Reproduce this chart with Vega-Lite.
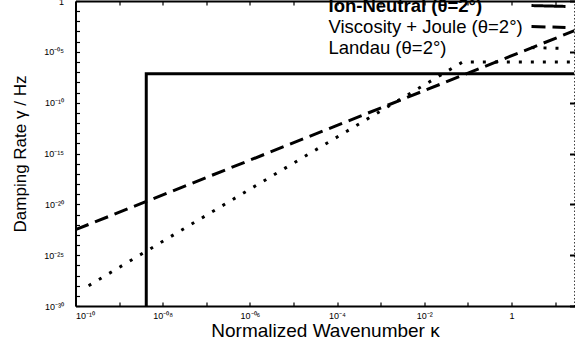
{
  "$schema": "https://vega.github.io/schema/vega-lite/v6.json",
  "autosize": {"type": "none"},
  "width": 499,
  "height": 305,
  "padding": {"left": 75.5, "top": 1, "right": 0, "bottom": 38},
  "background": "white",
  "config": {
    "font": "Liberation Sans",
    "view": {"stroke": null},
    "axis": {"grid": false, "domainColor": "black", "domainWidth": 2, "tickColor": "black", "tickWidth": 1.2, "labelColor": "black", "titleColor": "black", "labelFont": "Liberation Sans", "titleFont": "Liberation Sans", "titleFontWeight": "normal"}
  },
  "data": {
    "values": [
      {"series": "Ion-Neutral (θ=2°)", "k": 4.2e-9, "gamma": 1e-30, "i": 0},
      {"series": "Ion-Neutral (θ=2°)", "k": 4.2e-9, "gamma": 7e-8, "i": 1},
      {"series": "Ion-Neutral (θ=2°)", "k": 28, "gamma": 7e-8, "i": 2},
      {"series": "Viscosity + Joule (θ=2°)", "k": 1e-10, "gamma": 3.2e-23, "i": 0},
      {"series": "Viscosity + Joule (θ=2°)", "k": 28, "gamma": 1.2e-3, "i": 1},
      {"series": "Landau (θ=2°)", "k": 2e-10, "gamma": 1e-28, "i": 0},
      {"series": "Landau (θ=2°)", "k": 0.076, "gamma": 1e-6, "i": 1},
      {"series": "Landau (θ=2°)", "k": 28, "gamma": 1e-6, "i": 2}
    ]
  },
  "layer": [
    {
      "mark": {"type": "line", "color": "black", "strokeWidth": 3, "strokeCap": "butt", "clip": true},
      "encoding": {
        "x": {"field": "k", "type": "quantitative",
          "scale": {"type": "log", "domain": [1e-10, 28], "nice": false},
          "axis": {
            "title": "Normalized Wavenumber κ", "titleFontSize": 19, "titlePadding": 1,
            "values": [1e-10, 1e-9, 1e-8, 1e-7, 1e-6, 1e-5, 1e-4, 1e-3, 1e-2, 1e-1, 1, 10],
            "tickSize": -4, "labelPadding": 9, "labelFontSize": 9,
            "labelExpr": "round(log(datum.value)/LN10) == -10 ? '10⁻¹⁰' : round(log(datum.value)/LN10) == -8 ? '10⁻⁰⁸' : round(log(datum.value)/LN10) == -6 ? '10⁻⁰⁶' : round(log(datum.value)/LN10) == -4 ? '10⁻⁴' : round(log(datum.value)/LN10) == -2 ? '10⁻²' : round(log(datum.value)/LN10) == 0 ? '1' : ''"
          }
        },
        "y": {"field": "gamma", "type": "quantitative",
          "scale": {"type": "log", "domain": [1e-30, 1], "nice": false},
          "axis": {
            "title": "Damping Rate γ / Hz", "titleFontSize": 17, "titlePadding": 14,
            "values": [1e-30,1e-29,1e-28,1e-27,1e-26,1e-25,1e-24,1e-23,1e-22,1e-21,1e-20,1e-19,1e-18,1e-17,1e-16,1e-15,1e-14,1e-13,1e-12,1e-11,1e-10,1e-9,1e-8,1e-7,1e-6,1e-5,1e-4,1e-3,1e-2,1e-1,1],
            "tickSize": -4, "labelPadding": 16, "labelFontSize": 9,
            "labelExpr": "round(log(datum.value)/LN10) == -30 ? '10⁻³⁰' : round(log(datum.value)/LN10) == -25 ? '10⁻²⁵' : round(log(datum.value)/LN10) == -20 ? '10⁻²⁰' : round(log(datum.value)/LN10) == -15 ? '10⁻¹⁵' : round(log(datum.value)/LN10) == -10 ? '10⁻¹⁰' : round(log(datum.value)/LN10) == -5 ? '10⁻⁰⁵' : round(log(datum.value)/LN10) == 0 ? '1' : ''"
          }
        },
        "order": {"field": "i"},
        "detail": {"field": "series"},
        "strokeDash": {"field": "series", "type": "nominal",
          "scale": {"domain": ["Ion-Neutral (θ=2°)", "Viscosity + Joule (θ=2°)", "Landau (θ=2°)"], "range": [[1, 0], [14, 7], [3, 9]]},
          "legend": {
            "title": null, "orient": "none", "legendX": 463, "legendY": -5,
            "padding": 0, "symbolType": "M-2,-0.05L2,0.05", "symbolSize": 289, "symbolStrokeWidth": 3, "symbolStrokeColor": "black", "symbolFillColor": "transparent",
            "rowPadding": 1,
            "labelFontSize": 18.5, "labelColor": "black", "labelAlign": "left", "labelOffset": -230,
            "labelLimit": 300,
            "encode": {"labels": {"update": {"fontWeight": {"signal": "datum.value == 'Ion-Neutral (θ=2°)' ? 'bold' : 'normal'"}}}}
          }
        }
      }
    },
    {
      "mark": {"type": "line", "strokeOpacity": 0},
      "encoding": {
        "x": {"field": "k", "type": "quantitative", "scale": {"type": "log", "domain": [1e-10, 28], "nice": false},
          "axis": {"orient": "top", "title": null, "labels": false, "values": [1e-10, 1e-9, 1e-8, 1e-7, 1e-6, 1e-5, 1e-4, 1e-3, 1e-2, 1e-1, 1, 10], "tickSize": -4}},
        "y": {"field": "gamma", "type": "quantitative", "scale": {"type": "log", "domain": [1e-30, 1], "nice": false},
          "axis": {"orient": "right", "title": null, "labels": false, "domainWidth": 1.5, "domainDash": [1.5, 2],
            "values": [1e-30,1e-25,1e-20,1e-15,1e-10,1e-5,1], "tickSize": -5, "tickWidth": 2}},
        "detail": {"field": "series"}
      }
    }
  ],
  "resolve": {"axis": {"x": "independent", "y": "independent"}}
}
